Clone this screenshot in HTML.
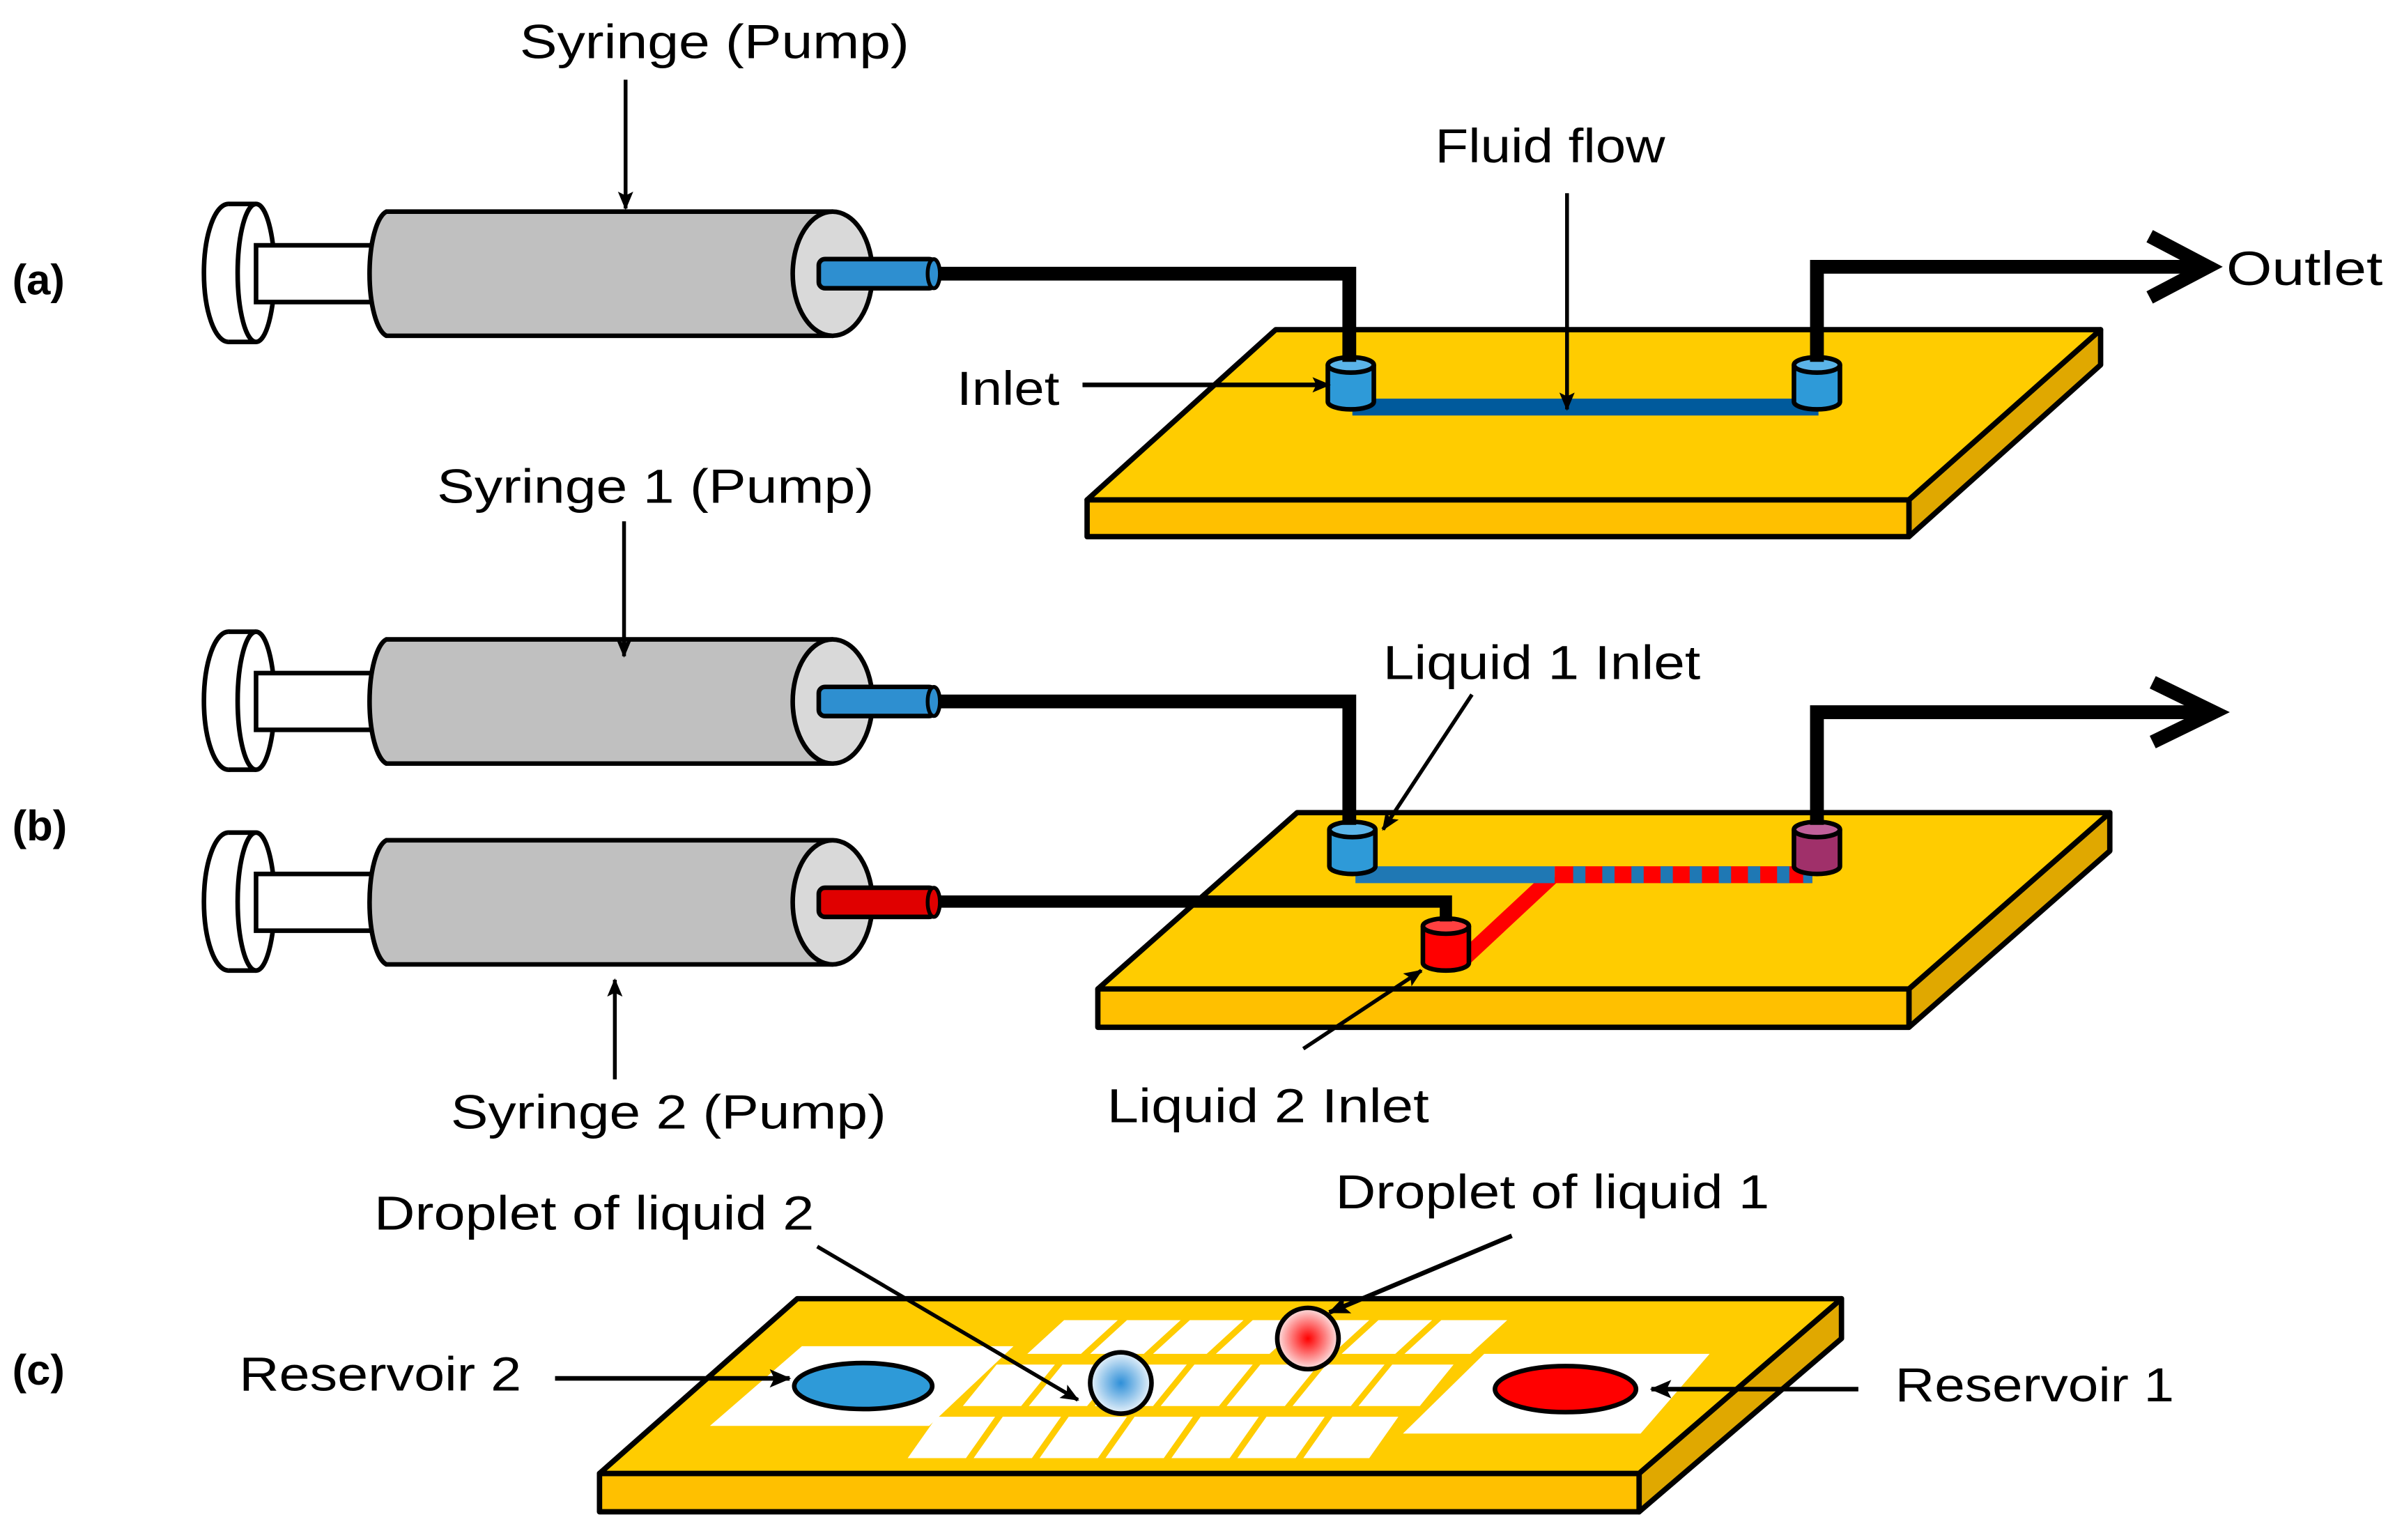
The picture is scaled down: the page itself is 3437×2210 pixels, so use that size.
<!DOCTYPE html>
<html><head><meta charset="utf-8"><style>
html,body{margin:0;padding:0;background:#fff;}
svg{display:block;}
text{font-family:"Liberation Sans",Arial,sans-serif;fill:#000;}
</style></head><body>
<svg width="3437" height="2210" viewBox="0 0 1562 1004.4" preserveAspectRatio="none" xmlns="http://www.w3.org/2000/svg">
<defs>
<marker id="ah" markerWidth="12" markerHeight="12" refX="11" refY="6" orient="auto" markerUnits="userSpaceOnUse">
<path d="M0,1 L12,6 L0,11 L2.5,6 Z" fill="#000"/>
</marker>
<marker id="ah2" markerWidth="14" markerHeight="14" refX="13" refY="7" orient="auto" markerUnits="userSpaceOnUse">
<path d="M0,1 L14,7 L0,13 L3,7 Z" fill="#000"/>
</marker>
<radialGradient id="gb" cx="0.5" cy="0.5" r="0.5"><stop offset="0" stop-color="#2E8FD8"/><stop offset="1" stop-color="#E8F2FA"/></radialGradient>
<radialGradient id="gr" cx="0.5" cy="0.5" r="0.5"><stop offset="0" stop-color="#FF0000"/><stop offset="1" stop-color="#FCE4E4"/></radialGradient>
<g id="syr" stroke="#000" stroke-width="3">
<ellipse cx="149" cy="178" rx="16" ry="45" fill="#fff"/>
<rect x="149" y="133" width="18" height="90" fill="#fff" stroke="none"/>
<line x1="149" y1="133" x2="167" y2="133"/><line x1="149" y1="223" x2="167" y2="223"/>
<ellipse cx="167" cy="178" rx="12" ry="45" fill="#fff"/>
<rect x="167" y="160" width="78" height="37" fill="#fff"/>
<path d="M252,138 H543 A26,41 0 0 1 543,219 H252 A13,41 0 0 1 252,138 Z" fill="#C0C0C0"/>
<ellipse cx="543" cy="178.5" rx="26" ry="40.5" fill="#D9D9D9"/>
</g>
</defs>

<text x="8" y="192" font-size="28" font-weight="bold">(a)</text>
<text x="8" y="548" font-size="28" font-weight="bold">(b)</text>
<text x="8" y="903" font-size="28" font-weight="bold">(c)</text>

<!-- ===== (a) ===== -->
<text x="339" y="38" font-size="31" textLength="254" lengthAdjust="spacingAndGlyphs">Syringe (Pump)</text>
<use href="#syr"/>
<line x1="408" y1="52" x2="408" y2="136" stroke="#000" stroke-width="2.5" marker-end="url(#ah)"/>
<rect x="534" y="169" width="76" height="19" rx="4" fill="#2E8FD0" stroke="#000" stroke-width="3"/>
<ellipse cx="609" cy="178.5" rx="4" ry="9.5" fill="#2E8FD0" stroke="#000" stroke-width="2.5"/>

<g stroke="#000" stroke-width="3.5" stroke-linejoin="round">
<polygon points="1245,326 1370,215 1370,238 1245,350" fill="#E0A800"/>
<rect x="709" y="326" width="536" height="24" fill="#FFC000"/>
<polygon points="832,215 1370,215 1245,326 709,326" fill="#FFCC00"/>
</g>
<rect x="882" y="260" width="304" height="11" fill="#005A9C"/>
<g stroke="#000" stroke-width="3">
<path d="M866,238 V262 A15,5 0 0 0 896,262 V238" fill="#2E9AD8"/>
<ellipse cx="881" cy="238" rx="15" ry="5" fill="#5BB4E8"/>
<path d="M1170,238 V262 A15,5 0 0 0 1200,262 V238" fill="#2E9AD8"/>
<ellipse cx="1185" cy="238" rx="15" ry="5" fill="#5BB4E8"/>
</g>
<polyline points="612,178.5 880,178.5 880,236" fill="none" stroke="#000" stroke-width="9"/>
<polyline points="1185,236 1185,174 1438,174" fill="none" stroke="#000" stroke-width="9"/>
<polyline points="1402,154 1440,174 1402,194" fill="none" stroke="#000" stroke-width="9" stroke-linejoin="miter"/>
<text x="1452" y="186" font-size="31" textLength="102" lengthAdjust="spacingAndGlyphs">Outlet</text>
<text x="936" y="106" font-size="31" textLength="150" lengthAdjust="spacingAndGlyphs">Fluid flow</text>
<line x1="1022" y1="126" x2="1022" y2="267" stroke="#000" stroke-width="2.5" marker-end="url(#ah)"/>
<text x="624" y="264" font-size="31" textLength="67" lengthAdjust="spacingAndGlyphs">Inlet</text>
<line x1="706" y1="251" x2="867" y2="251" stroke="#000" stroke-width="3" marker-end="url(#ah)"/>

<!-- ===== (b) ===== -->
<text x="285" y="328" font-size="31" textLength="285" lengthAdjust="spacingAndGlyphs">Syringe 1 (Pump)</text>
<use href="#syr" transform="translate(0,279)"/>
<line x1="407" y1="340" x2="407" y2="428" stroke="#000" stroke-width="2.5" marker-end="url(#ah)"/>
<rect x="534" y="448" width="76" height="19" rx="4" fill="#2E8FD0" stroke="#000" stroke-width="3"/>
<ellipse cx="609" cy="457.5" rx="4" ry="9.5" fill="#2E8FD0" stroke="#000" stroke-width="2.5"/>
<use href="#syr" transform="translate(0,410)"/>
<rect x="534" y="579" width="76" height="19" rx="4" fill="#E00000" stroke="#000" stroke-width="3"/>
<ellipse cx="609" cy="588.5" rx="4" ry="9.5" fill="#E00000" stroke="#000" stroke-width="2.5"/>
<text x="294" y="736" font-size="31" textLength="284" lengthAdjust="spacingAndGlyphs">Syringe 2 (Pump)</text>
<line x1="401" y1="704" x2="401" y2="639" stroke="#000" stroke-width="2.5" marker-end="url(#ah)"/>

<g stroke="#000" stroke-width="3.5" stroke-linejoin="round">
<polygon points="1245,645 1376,530 1376,555 1245,670" fill="#E0A800"/>
<rect x="716" y="645" width="529" height="25" fill="#FFC000"/>
<polygon points="846,530 1376,530 1245,645 716,645" fill="#FFCC00"/>
</g>
<line x1="1013" y1="571" x2="954" y2="626" stroke="#FF0000" stroke-width="10"/>
<rect x="884" y="565" width="130" height="11" fill="#1F78B4"/>
<rect x="1014" y="565" width="168" height="11" fill="#FF0000"/>
<g fill="#1F78B4">
<rect x="1026" y="565" width="8" height="11"/><rect x="1045" y="565" width="8" height="11"/><rect x="1064" y="565" width="8" height="11"/><rect x="1083" y="565" width="8" height="11"/><rect x="1102" y="565" width="8" height="11"/><rect x="1121" y="565" width="8" height="11"/><rect x="1140" y="565" width="8" height="11"/><rect x="1159" y="565" width="8" height="11"/><rect x="1176" y="565" width="6" height="11"/>
</g>
<g stroke="#000" stroke-width="3">
<path d="M867,541 V565 A15,5 0 0 0 897,565 V541" fill="#2E9AD8"/>
<ellipse cx="882" cy="541" rx="15" ry="5" fill="#5BB4E8"/>
<path d="M1170,541 V565 A15,5 0 0 0 1200,565 V541" fill="#A0306A"/>
<ellipse cx="1185" cy="541" rx="15" ry="5" fill="#C0609A"/>
<path d="M928,604 V628 A15,5 0 0 0 958,628 V604" fill="#FF0000"/>
<ellipse cx="943" cy="604" rx="15" ry="5" fill="#FF4040"/>
</g>
<polyline points="612,457.5 880,457.5 880,538" fill="none" stroke="#000" stroke-width="9"/>
<polyline points="612,588 943,588 943,601" fill="none" stroke="#000" stroke-width="8"/>
<polyline points="1185,538 1185,464.5 1440,464.5" fill="none" stroke="#000" stroke-width="9"/>
<polyline points="1404,445 1444,464.5 1404,484" fill="none" stroke="#000" stroke-width="9"/>
<text x="902" y="443" font-size="31" textLength="207" lengthAdjust="spacingAndGlyphs">Liquid 1 Inlet</text>
<line x1="960" y1="453" x2="902" y2="541" stroke="#000" stroke-width="2.5" marker-end="url(#ah)"/>
<text x="722" y="732" font-size="31" textLength="210" lengthAdjust="spacingAndGlyphs">Liquid 2 Inlet</text>
<line x1="850" y1="684" x2="927" y2="633" stroke="#000" stroke-width="2.5" marker-end="url(#ah)"/>

<!-- ===== (c) ===== -->
<g stroke="#000" stroke-width="3.5" stroke-linejoin="round">
<polygon points="1069,961 1201,847 1201,873 1069,986" fill="#E0A800"/>
<rect x="391" y="961" width="678" height="25" fill="#FFC000"/>
<polygon points="520,847 1201,847 1069,961 391,961" fill="#FFCC00"/>
</g>
<g fill="#fff">
<polygon points="523,878 661,878 606,930 463,930"/>
<polygon points="968,883 1115,883 1070,935 915,935"/>
</g>
<g fill="#fff">
<polygon points="694,861 729,861 705,883 670,883"/>
<polygon points="735,861 770,861 746,883 711,883"/>
<polygon points="776,861 811,861 787,883 752,883"/>
<polygon points="817,861 852,861 828,883 793,883"/>
<polygon points="858,861 893,861 869,883 834,883"/>
<polygon points="899,861 934,861 910,883 875,883"/>
<polygon points="940,861 983,861 959,883 916,883"/>
<polygon points="650,890 688,890 666,917 628,917"/>
<polygon points="693,890 731,890 709,917 671,917"/>
<polygon points="736,890 774,890 752,917 714,917"/>
<polygon points="779,890 817,890 795,917 757,917"/>
<polygon points="822,890 860,890 838,917 800,917"/>
<polygon points="865,890 903,890 881,917 843,917"/>
<polygon points="908,890 948,890 926,917 886,917"/>
<polygon points="611,924 649,924 630,951 592,951"/>
<polygon points="654,924 692,924 673,951 635,951"/>
<polygon points="697,924 735,924 716,951 678,951"/>
<polygon points="740,924 778,924 759,951 721,951"/>
<polygon points="783,924 821,924 802,951 764,951"/>
<polygon points="826,924 864,924 845,951 807,951"/>
<polygon points="869,924 912,924 893,951 850,951"/>
</g>
<ellipse cx="563" cy="904" rx="45" ry="15" fill="#2E9AD8" stroke="#000" stroke-width="3"/>
<ellipse cx="1021" cy="906" rx="46" ry="15" fill="#FF0000" stroke="#000" stroke-width="3"/>
<circle cx="731" cy="902" r="20" fill="url(#gb)" stroke="#000" stroke-width="3"/>
<circle cx="853" cy="873" r="20" fill="url(#gr)" stroke="#000" stroke-width="3"/>

<text x="156" y="907" font-size="31" textLength="184" lengthAdjust="spacingAndGlyphs">Reservoir 2</text>
<line x1="362" y1="899" x2="515" y2="899" stroke="#000" stroke-width="3" marker-end="url(#ah2)"/>
<text x="1236" y="914" font-size="31" textLength="182" lengthAdjust="spacingAndGlyphs">Reservoir 1</text>
<line x1="1212" y1="906" x2="1077" y2="906" stroke="#000" stroke-width="3" marker-end="url(#ah2)"/>
<text x="244" y="802" font-size="31" textLength="287" lengthAdjust="spacingAndGlyphs">Droplet of liquid 2</text>
<line x1="533" y1="813" x2="703" y2="913" stroke="#000" stroke-width="2.5" marker-end="url(#ah)"/>
<text x="871" y="788" font-size="31" textLength="283" lengthAdjust="spacingAndGlyphs">Droplet of liquid 1</text>
<line x1="986" y1="806" x2="867" y2="856" stroke="#000" stroke-width="3" marker-end="url(#ah2)"/>
</svg>
</body></html>
